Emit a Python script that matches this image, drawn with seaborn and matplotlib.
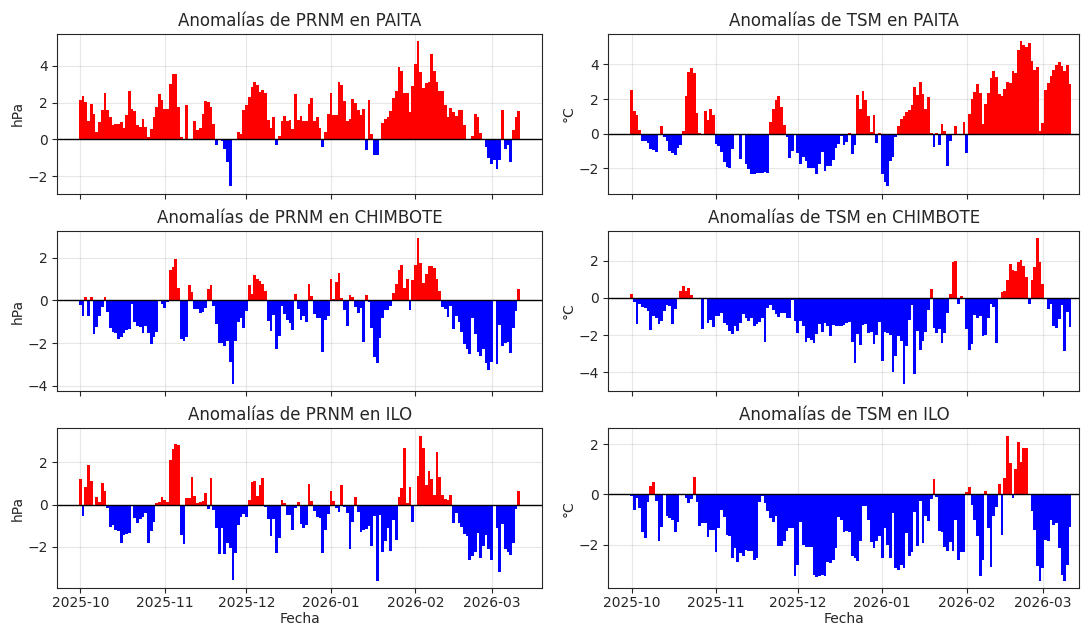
import numpy as np
import pandas as pd
import matplotlib
matplotlib.use("Agg")
import matplotlib.pyplot as plt
import matplotlib.dates as mdates
import seaborn as sns

fecha_inicio = "2025-10-01"

prnm_paita = [
    2.15, 2.35, 2.05, 1.0, 1.95, 1.4, 0.4, 0.95, 1.6, 2.55,
    1.6, 1.2, 0.8, 0.85, 0.85, 0.95, 0.6, 1.35, 2.65, 1.65,
    1.55, 0.8, 0.7, 1.1, 0.7, 0.15, 0.55, 1.2, 1.75, 2.5,
    2.15, 1.65, 1.65, 3.0, 3.55, 3.55, 1.75, 0.15, 0.0, 1.85,
    0.0, 0.0, 1.0, 0.5, 0.6, 1.4, 2.1, 2.05, 1.75, 0.85,
    -0.3, 0.0, -0.1, -0.5, -1.25, -2.55, -0.05, 0.0, 0.4, 0.3,
    1.6, 1.85, 2.3, 2.85, 3.15, 2.95, 2.6, 2.7, 2.55, 1.05,
    0.6, 1.2, -0.3, 0.2, 1.0, 1.3, 1.0, 1.05, 0.55, 2.45,
    1.05, 1.3, 1.0, 1.0, 1.95, 2.25, 1.0, 1.2, 0.65, -0.4,
    0.4, 1.4, 2.55, 1.35, 1.35, 3.1, 2.95, 2.1, 1.0, 1.1,
    2.2, 2.0, 1.6, 1.35, 1.65, -0.55, 2.15, 0.3, -0.85, -0.85,
    0.05, 0.9, 1.1, 1.2, 1.55, 2.25, 2.65, 3.95, 3.7, 2.55,
    2.55, 1.5, 2.9, 4.1, 5.35, 3.65, 2.8, 3.05, 3.15, 4.65,
    3.75, 3.1, 2.65, 2.65, 1.85, 1.2, 1.7, 1.5, 1.3, 1.6,
    1.6, 0.8, 0.05, 0.0, 0.2, 1.4, 1.2, 0.35, 0.0, -0.4,
    -1.0, -1.35, -1.1, -1.6, -1.1, 1.6, -0.5, -0.3, -1.2, 0.5,
    1.2, 1.55,
]

prnm_chimbote = [
    -0.2, -0.75, 0.15, -0.75, 0.15, -1.6, -1.25, -0.75, -0.3, 0.15,
    -0.55, -1.3, -1.5, -1.55, -1.8, -1.7, -1.55, -1.4, -1.35, -0.15,
    -1.0, -1.2, -1.25, -1.55, -1.2, -1.55, -2.05, -1.7, -1.5, 0.0,
    -0.15, -0.35, -0.1, 1.4, 1.55, 1.95, 0.6, -1.8, -1.9, -1.7,
    0.7, 0.4, -0.4, -0.4, -0.6, -0.55, -0.35, 0.55, 0.7, -0.25,
    -1.1, -2.0, -2.0, -2.15, -1.9, -2.9, -3.9, -1.9, -1.0, -0.85,
    -1.3, -0.5, 0.7, 0.3, 1.2, 1.0, 0.9, 0.75, 0.45, -0.95,
    -1.45, -0.7, -2.3, -1.65, -0.25, -0.65, -0.9, -1.05, -1.4, 0.3,
    -0.4, -0.9, -0.75, -1.0, 0.75, 0.2, -0.65, -0.85, -0.85, -2.4,
    -0.9, -0.75, 1.0, 0.05, 0.85, 1.3, 0.1, -0.45, -1.2, 0.25,
    0.15, -0.3, -0.6, -0.35, -1.95, 0.25, -0.1, -1.3, -2.65, -2.95,
    -1.75, -0.85, -0.45, -0.45, -0.25, 0.35, 0.75, 1.4, 1.65, 0.6,
    1.0, -0.45, 0.95, 1.65, 2.9, 1.75, 0.8, 1.25, 1.6, 1.6,
    1.5, 1.0, 0.45, -0.3, -0.4, -0.8, -0.25, -1.35, -0.75, -1.0,
    -1.5, -2.05, -2.3, -2.5, -0.85, -1.6, -2.4, -2.6, -2.3, -2.95,
    -3.25, -2.9, -0.05, -3.0, -1.15, -2.15, -2.0, -1.95, -2.45, -1.3,
    -0.5, 0.55,
]

prnm_ilo = [
    1.2, -0.55, 0.85, 1.85, 1.1, 0.0, 0.35, 0.1, 1.0, 0.65,
    -0.15, -1.05, -0.95, -1.2, -1.25, -1.8, -1.45, -1.4, -1.35, 0.0,
    -0.65, -0.85, -0.7, -0.6, -0.4, -1.8, -1.25, -0.8, 0.05, 0.1,
    0.35, 0.2, 0.1, 2.1, 2.6, 2.85, 2.8, -1.45, -1.85, 0.3,
    0.3, 1.3, 0.4, 0.05, 0.1, 0.15, 0.55, -0.2, 1.25, -0.25,
    -1.1, -2.35, -1.1, -2.35, -1.8, -2.05, -3.55, -2.3, -0.95, -0.6,
    -0.45, -0.6, 0.2, 1.05, 1.1, 0.4, 0.9, 1.25, -0.1, -0.7,
    -1.5, -0.7, -2.3, -1.6, 0.2, 0.05, -0.5, -0.5, -1.2, -0.15,
    0.1, -0.9, -1.1, -0.95, 0.95, 0.15, -0.3, -0.6, -0.65, -2.3,
    -1.2, -0.45, 0.65, 0.15, -0.15, -0.35, 0.9, -0.1, -0.4, -2.1,
    -0.8, 0.35, -0.35, -1.3, -1.2, -1.15, -1.0, -1.95, -0.55, -3.6,
    -0.5, -2.25, -1.7, -1.1, -2.2, -0.75, -1.65, 0.35, 0.8, 2.65,
    0.05, 0.85, -0.8, -0.05, 1.35, 3.25, 2.65, 0.9, 1.6, 1.2,
    0.45, 2.5, 1.3, 0.45, 0.25, 0.2, 0.45, -0.85, -0.4, -0.85,
    -1.05, -1.4, -1.5, -2.6, -2.45, -2.25, -1.35, -2.5, -1.95, -1.45,
    -2.1, -2.6, -0.05, -1.1, -3.2, -0.9, -2.1, -2.25, -2.4, -1.8,
    -0.2, 0.65,
]

tsm_paita = [
    2.5, 1.3, 1.1, 0.2, -0.4, -0.4, -0.55, -0.9, -0.95, -1.05,
    0.0, 0.45, -0.2, -0.45, -1.0, -1.15, -1.25, -0.85, -0.65, 0.15,
    2.2, 3.55, 3.8, 3.5, 1.2, 0.05, 0.0, 1.3, 0.8, 1.4,
    1.05, -0.6, -0.7, -1.05, -1.65, -1.95, -2.0, -0.9, -0.05, 0.0,
    -1.45, -0.05, -1.75, -2.05, -2.35, -2.35, -2.3, -2.3, -2.3, -2.25,
    -2.3, 0.65, 1.45, 1.95, 2.2, 1.55, 0.5, -0.2, -1.4, -1.0,
    -0.1, -1.1, -1.75, -1.35, -1.6, -2.0, -2.0, -2.0, -2.35, -1.75,
    -1.05, -2.15, -1.85, -1.85, -1.5,
    -0.85, -0.6, -0.15, -0.65, -0.5, 0.05, -1.2, -0.65, 2.25, 1.45,
    2.45, 1.95, 1.0, 0.1, 1.1, -0.55, 0.05, -2.35, -2.8, -3.05,
    -1.6, -1.35, -0.2, 0.45, 0.85, 1.0, 1.25, 1.35, 1.65, 2.7,
    2.25, 3.0, 2.3, 1.4, 2.1, 0.05, -0.75, 0.05, -0.65, 0.55,
    0.15, -1.9, -0.45, 0.0, 0.45, -0.1, -0.1, 0.65, -1.15, 1.15,
    2.0, 2.4, 2.85, 2.35, 0.55, 1.7, 2.35, 3.2, 3.6, 3.3,
    2.3, 2.2, 2.6, 3.0, 2.9, 3.6, 3.5, 4.85, 5.35, 5.1,
    5.0, 5.25, 4.2, 3.7, 3.85, 0.15, 0.6, 2.5, 2.9, 3.35,
    3.7, 3.95, 4.15, 3.9, 3.65, 3.95, 2.85,
]

tsm_chimbote = [
    0.2, -0.2, -1.4, -0.35, -0.5, -0.55, -0.7, -1.7, -0.95, -1.1,
    -1.4, -1.25, -0.7, -0.4, -0.45, -1.4, -0.6, 0.0, 0.35, 0.65,
    0.4, 0.55, 0.15, 0.0, -0.05, 0.0, -1.65, 0.0, -1.35, -1.2,
    -1.55, -0.95, -0.95, -0.8, -1.35, -1.45, -1.8, -1.95, -1.5, -1.75,
    -1.35, -0.85, -1.05, -1.25, -1.1, -1.5, -1.4, -1.3, -1.1, -2.35,
    -0.55, -0.4, -0.65, -0.85, -1.0, -0.8, -0.8, -1.1, -1.05, -0.1,
    -1.25, -1.9, -1.25, -1.5, -2.35, -2.15, -2.25, -2.4, -1.95, -1.4,
    -1.85, -1.35, -1.5, -2.05, -1.45, -1.5,
    -1.5, -1.5, -1.45, -1.35, -1.3, -2.35, -3.5, -1.95, -2.5, -1.45,
    -1.4, -1.9, -1.85, -2.45, -2.0, -1.3, -3.4, -1.85, -1.9, -2.0,
    -4.0, -3.1, -2.05, -2.3, -4.6, -2.6, -1.2, -0.4, -4.1, -1.75,
    -2.8, -2.3, -1.85, -0.65, 0.5, -1.6, -1.9, -1.65, -2.4, -1.9,
    -0.8, 0.2, 1.95, 2.0, -0.3, 0.1, 0.0, -1.65, -2.8, -2.45,
    -0.9, -1.05, -0.95, -2.05, -2.0, -1.05, -0.3, -0.5, -2.4, 0.0,
    0.3, 0.4, 0.95, 1.85, 1.5, 1.45, 1.95, 2.05, 1.7, 1.1,
    -0.3, 0.95, 1.65, 3.2, 1.95, 0.75, 0.0, -0.6, -0.35, -1.5,
    -1.6, -1.15, -0.4, -2.85, -0.75, -1.55,
]

tsm_ilo = [
    -0.05, -0.6, -0.15, -0.55, -1.5, -1.75, -0.3, 0.35, 0.5, -0.25,
    -1.85, -1.3, 0.0, -0.85, -0.95, -1.0, -1.5, -1.1, 0.0, 0.0,
    -0.15, -0.35, -0.2, 0.7, -0.3, -1.25, -1.15, -1.15, -1.7, -1.4,
    -1.4, -2.3, -1.35, -0.6, -0.9, -1.6, -1.65, -2.55, -2.15, -2.7,
    -2.35, -2.45, -2.2, -2.25, -2.25, -2.6, -2.55, -0.3, -0.05, -0.35,
    -0.65, -0.95, -1.1, -0.85, -2.05, -2.05, -1.85, -1.45, -1.35, -1.35,
    -3.25, -2.8, -1.1, -2.0, -2.1, -2.1, -2.1, -3.2, -3.3, -3.25,
    -3.2, -3.25, -2.7, -2.75, -2.6, -2.15, -0.9, -1.0,
    -1.5, -1.45, -1.5, -2.45, -2.55, -2.65, -1.85, -0.45, -0.45, -1.0,
    -1.9, -2.15, -1.85, -1.65, -2.55, -1.35, -2.0, -2.55, -0.75, -2.95,
    -3.0, -2.8, -2.95, -1.55, -2.45, -2.3, -0.7, -2.05, -0.25, -1.95,
    -0.85, -1.05, -0.2, 0.6, -0.1, -1.45, -1.5, -2.1, -2.25, -1.9,
    -2.25, -1.0, -2.6, -2.3, -2.3, 0.1, 0.3, -0.4, -1.0, -1.65,
    -3.25, -2.6, 0.15, -1.35, -2.9, -0.85, -0.5, 0.4, -1.6, 0.65,
    2.35, 1.25, -0.15, 1.0, 2.1, 1.3, 1.85, 1.85, 0.0, -0.65,
    -1.4, -2.85, -3.45, -2.95, -1.8, -1.85, -1.0, -1.2, -1.15, -2.15,
    -3.2, -3.45, -2.8, -1.3,
]

titulos = [
    ["Anomalías de PRNM en PAITA", "Anomalías de TSM en PAITA"],
    ["Anomalías de PRNM en CHIMBOTE", "Anomalías de TSM en CHIMBOTE"],
    ["Anomalías de PRNM en ILO", "Anomalías de TSM en ILO"],
]
series = [
    [prnm_paita, tsm_paita],
    [prnm_chimbote, tsm_chimbote],
    [prnm_ilo, tsm_ilo],
]
unidades = ["hPa", "°C"]

sns.set_style("ticks")
plt.rcParams["font.family"] = ["DejaVu Sans"]
plt.rcParams["xtick.major.size"] = 3.5
plt.rcParams["ytick.major.size"] = 3.5
plt.rcParams["xtick.major.pad"] = 2.5
plt.rcParams["ytick.major.pad"] = 3.0

anchos = [485, 471]
fig, axes = plt.subplots(3, 2, figsize=(10.81, 6.27), dpi=100, sharex="col",
                         gridspec_kw={"width_ratios": anchos})
fig.subplots_adjust(left=0.0527, right=0.9986, top=0.946, bottom=0.062,
                    wspace=0.138, hspace=0.235)
paleta = {"pos": "#ff0000", "neg": "#0000ff"}

for r in range(3):
    for c in range(2):
        ax = axes[r, c]
        vals = series[r][c]
        fechas = pd.date_range(fecha_inicio, periods=len(vals), freq="D")
        df = pd.DataFrame({"x": mdates.date2num(fechas), "v": vals})
        df["s"] = np.where(df["v"] >= 0, "pos", "neg")
        sns.barplot(data=df, x="x", y="v", hue="s", palette=paleta,
                    native_scale=True, dodge=False, width=1.0, linewidth=0,
                    errorbar=None, legend=False, saturation=1, ax=ax)
        ax.axhline(0, color="black", linewidth=1)
        ax.grid(True, color="#b0b0b0", alpha=0.3, linewidth=0.8)
        ax.set_axisbelow(True)
        ax.set_title(titulos[r][c], fontsize=12)
        ax.set_ylabel(unidades[c], labelpad=2)
        ax.set_xlabel("Fecha" if r == 2 else "", labelpad=1)
        for sp in ax.spines.values():
            sp.set_color("#262626")
        ax.xaxis.set_major_locator(mdates.MonthLocator())
        ax.xaxis.set_major_formatter(mdates.DateFormatter("%Y-%m"))

# same days-per-pixel in both columns: the right column is narrower
x0, x1 = axes[2, 0].get_xlim()
for r in range(3):
    axes[r, 1].set_xlim(x0, x0 + (x1 - x0) * anchos[1] / anchos[0])

fig.savefig("out.png", dpi=100)
